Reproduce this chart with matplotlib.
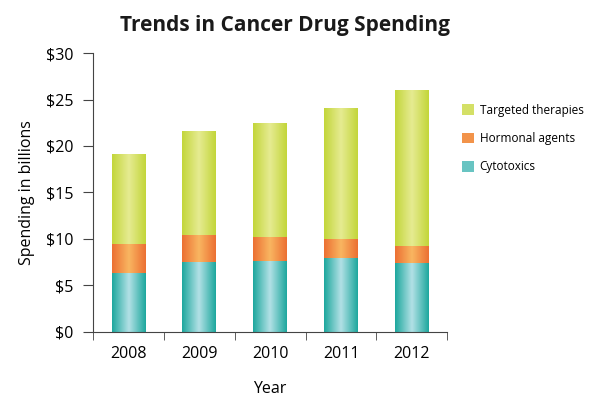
import matplotlib.pyplot as plt
import matplotlib.colors as mcolors
import numpy as np
from matplotlib.patches import Patch

years = ['2008', '2009', '2010', '2011', '2012']
cytotoxics = [6.3, 7.5, 7.6, 8.0, 7.4]
hormonal = [3.1, 2.9, 2.6, 2.0, 1.85]
targeted = [9.7, 11.2, 12.3, 14.1, 16.75]

# edge colour, centre colour for the cylinder look
shades = {
    'Cytotoxics': ('#1ea89e', '#b3e1e6'),
    'Hormonal agents': ('#ec7033', '#f9b661'),
    'Targeted therapies': ('#c3d63a', '#e6eb92'),
}

plt.rcParams['font.family'] = ['Open Sans', 'DejaVu Sans']

fig = plt.figure(figsize=(5.9, 3.96), dpi=100)
ax = fig.add_axes([0.158, 0.162, 0.600, 0.704])

x = np.arange(len(years))
w = 0.48

def gradient_bars(bottoms, heights, name):
    edge, centre = shades[name]
    cmap = mcolors.LinearSegmentedColormap.from_list(name, [edge, centre, edge])
    grad = np.linspace(0, 1, 64).reshape(1, -1)
    bars = ax.bar(x, heights, w, bottom=bottoms, color='none', edgecolor='none')
    for b in bars:
        x0, y0 = b.get_x(), b.get_y()
        im = ax.imshow(grad, cmap=cmap, aspect='auto',
                       extent=(x0, x0 + b.get_width(), y0, y0 + b.get_height()),
                       zorder=2)
        im.set_clip_path(b)

gradient_bars(np.zeros(5), cytotoxics, 'Cytotoxics')
b2 = np.array(cytotoxics)
gradient_bars(b2, hormonal, 'Hormonal agents')
b3 = b2 + np.array(hormonal)
gradient_bars(b3, targeted, 'Targeted therapies')

ax.set_xlim(-0.5, 4.5)
ax.set_ylim(0, 30)
ax.set_yticks(range(0, 31, 5))
ax.set_yticklabels(['$' + str(v) for v in range(0, 31, 5)])
ax.set_xticks(x)
ax.set_xticklabels(years)
ax.set_xticks(np.arange(-0.5, 5, 1), minor=True)
ax.tick_params(axis='x', which='major', length=0, pad=10, labelsize=11.5)
ax.tick_params(axis='x', which='minor', length=6, color='#444444')
ax.tick_params(axis='y', length=7, pad=7, labelsize=11.5, color='#444444')
for s in ['top', 'right']:
    ax.spines[s].set_visible(False)
for s in ['left', 'bottom']:
    ax.spines[s].set_color('#444444')

ax.set_ylabel('Spending in billions', fontsize=11.5, labelpad=8)
ax.set_xlabel('Year', fontsize=11.5, labelpad=14)
fig.text(0.483, 0.935, 'Trends in Cancer Drug Spending', ha='center', va='center',
         fontsize=15, fontweight='bold', color='#1a1a1a')

handles = [Patch(facecolor=mcolors.to_hex(
                     0.5 * np.array(mcolors.to_rgb(shades[n][0])) +
                     0.5 * np.array(mcolors.to_rgb(shades[n][1]))), label=n)
           for n in ['Targeted therapies', 'Hormonal agents', 'Cytotoxics']]
fig.legend(handles=handles, loc='upper left', bbox_to_anchor=(0.765, 0.765),
           frameon=False, fontsize=8.5, handlelength=1.0, handleheight=1.0,
           labelspacing=1.3, handletextpad=0.5)

fig.savefig('out.png', dpi=100)
